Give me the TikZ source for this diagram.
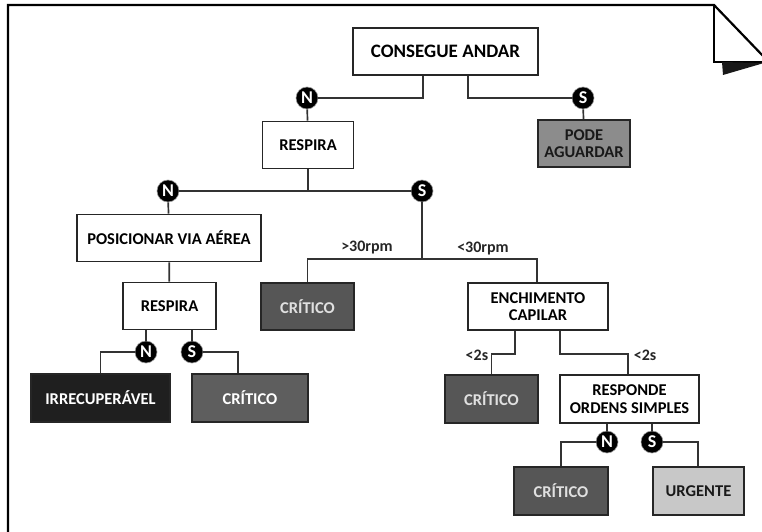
\documentclass[tikz,border=0pt]{standalone}
\usepackage{fontspec}
\setmainfont{Carlito}
\usetikzlibrary{calc}

\definecolor{escuro}{HTML}{565656}
\definecolor{medio}{HTML}{8C8C8C}
\definecolor{claro}{HTML}{C8C8C8}

\begin{document}
\begin{tikzpicture}[x=1pt,y=-1pt,line width=1.7pt,draw=black!80,
	every node/.style={font=\bfseries\fontsize{16.5}{17.5}\selectfont},
	box/.style={draw=black!85,rectangle,fill=white,minimum width=#1,minimum height=47,align=center,inner sep=0pt},
	yn/.style={circle,fill=black,text=white,draw=black!40,line width=0.6pt,inner sep=0pt,minimum size=22,font=\bfseries\fontsize{18}{18}\selectfont},
	lbl/.style={inner sep=1pt,text=black!85,font=\bfseries\fontsize{16}{17}\selectfont}]
	
	\useasboundingbox (0,0) rectangle (762,532);
	
	% folha
	\draw[black,line width=2.2pt] (8,534) -- (8,5) -- (714,5) -- (764,57);
	\draw[black,line width=2.2pt] (714,5) -- (714,62) -- (764,62);
	\fill[black!90] (722,62) -- (723,75) -- (764,63) -- cycle;
	
	% caixas
	\node[box=185,font=\bfseries\fontsize{19}{20}\selectfont] (consegue) at (445.5,51.5) {CONSEGUE ANDAR};
	\node[box=91] (respira) at (308,145) {RESPIRA};
	\node[box=92,fill=medio,text=black!90] (pode) at (584,143.5) {PODE\\AGUARDAR};
	\node[box=184] (posicionar) at (169,238) {POSICIONAR VIA AÉREA};
	\node[box=93,fill=escuro,text=black!12] (criticoA) at (307.5,306.5) {CRÍTICO};
	\node[box=140] (enchimento) at (538,306.5) {ENCHIMENTO\\CAPILAR};
	\node[box=93] (respiraB) at (169.5,306) {RESPIRA};
	\node[box=139,minimum height=48,fill=black!88,text=white] (irrec) at (100.5,398) {IRRECUPERÁVEL};
	\node[box=116,minimum height=48,fill=black!63,text=white] (criticoB) at (250,398) {CRÍTICO};
	\node[box=93,minimum height=48,fill=escuro,text=black!12] (criticoC) at (491.5,399) {CRÍTICO};
	\node[box=139,minimum height=48] (responde) at (629.5,399) {RESPONDE\\ORDENS SIMPLES};
	\node[box=94,minimum height=48,fill=escuro,text=black!12] (criticoD) at (561,491) {CRÍTICO};
	\node[box=91,minimum height=48,fill=claro,text=black!90] (urgente) at (698.5,491) {URGENTE};
	
	% respostas
	\node[yn] (n1) at (307,98) {N};
	\node[yn] (s1) at (583,98) {S};
	\node[yn] (n2) at (168,191) {N};
	\node[yn] (s2) at (422,191) {S};
	\node[yn] (n3) at (146,352) {N};
	\node[yn] (s3) at (192,352) {S};
	\node[yn] (n4) at (607,442) {N};
	\node[yn] (s4) at (652,442) {S};
	\coordinate (ramo) at (422,259);
	
	% ligacoes
	\draw ($(consegue.south)+(-22.5,0)$) |- (n1);
	\draw ($(consegue.south)+(22.5,0)$) |- (s1);
	\draw (n1) -- (respira);
	\draw (s1) -- (pode);
	\draw (respira.south) -- (respira.south |- n2);
	\draw (n2) -- (s2);
	\draw (n2) -- (posicionar);
	\draw (s2) -- (ramo);
	\draw (criticoA.north) |- (ramo) -| ($(enchimento.north)+(-1,0)$);
	\draw (posicionar) -- (respiraB);
	\draw ($(respiraB.south)+(-23.5,0)$) -- (n3);
	\draw ($(respiraB.south)+(22.5,0)$) -- (s3);
	\draw (n3) -| (irrec.north);
	\draw (s3) -| ($(criticoB.north)+(-12,0)$);
	\draw ($(enchimento.south)+(-23,0)$) -- ++(0,23) -| (criticoC.north);
	\draw ($(enchimento.south)+(22,0)$) -- ++(0,23) -| ($(responde.north)+(-1.5,0)$);
	\draw ($(responde.south)+(-22.5,0)$) -- (n4);
	\draw ($(responde.south)+(22.5,0)$) -- (s4);
	\draw (n4) -| (criticoD.north);
	\draw (s4) -| ($(urgente.north)+(-0.5,0)$);
	
	% rotulos
	\node[lbl] (mais30) at (367,248) {>30rpm};
	\node[lbl] (menos30) at (483,249) {<30rpm};
	\node[lbl,anchor=east] (menos2a) at (490,355) {<2s};
	\node[lbl,anchor=west] (menos2b) at (632,355) {<2s};
\end{tikzpicture}
\end{document}
